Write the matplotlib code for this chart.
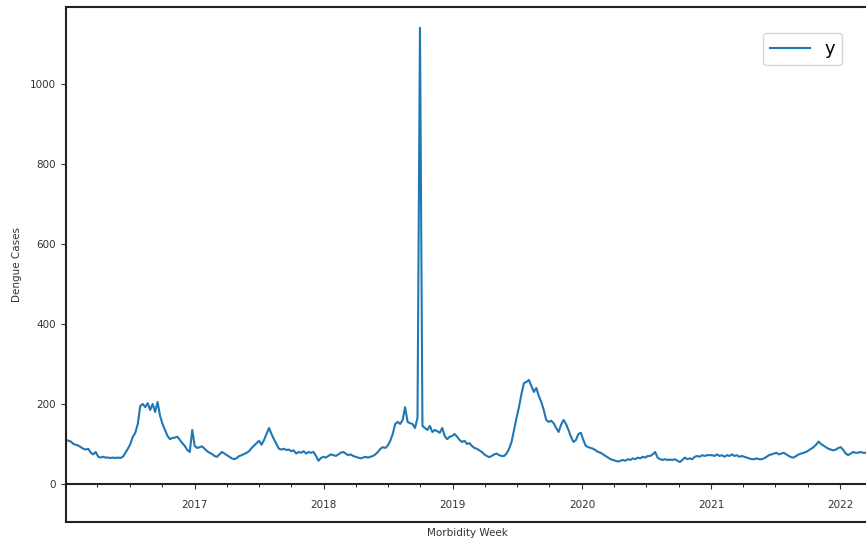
import numpy as np
import pandas as pd
import matplotlib
matplotlib.use('Agg')
import matplotlib.pyplot as plt
import matplotlib.dates as mdates
from matplotlib.lines import Line2D

# casos semanales de dengue
casos_2016 = [110, 108, 106, 100, 98, 96, 92, 88, 86, 88, 78, 74, 80, 68, 66, 68,
              66, 66, 65, 66, 65, 66, 65, 68, 78, 88, 100, 118, 128, 150, 195, 200,
              192, 202, 185, 200, 180, 205, 170, 150, 135, 120, 112, 115, 116, 118,
              110, 102, 95, 85, 80, 135]
casos_2017 = [95, 90, 92, 94, 88, 82, 78, 75, 70, 68, 74, 80, 76, 72, 68, 64,
              62, 65, 70, 72, 75, 78, 82, 90, 96, 102, 108, 98, 110, 125, 140, 125,
              112, 100, 88, 86, 88, 85, 86, 82, 84, 76, 80, 78, 82, 76,
              80, 78, 80, 70, 58, 65]
casos_2018 = [68, 66, 70, 74, 72, 70, 74, 78, 80, 76, 72, 74, 70, 68, 66, 64,
              66, 68, 66, 68, 70, 74, 80, 88, 92, 90, 96, 108, 125, 150, 155, 150,
              160, 192, 155, 152, 150, 140, 165, 1140, 145, 140, 135, 145, 130, 135,
              132, 128, 140, 120, 112, 118]
casos_2019 = [120, 125, 118, 110, 105, 108, 100, 102, 95, 90, 88, 84, 80, 74, 70, 67,
              70, 74, 76, 72, 70, 70, 76, 88, 105, 135, 165, 192, 225, 252, 255, 260,
              245, 230, 240, 220, 205, 185, 160, 155, 158, 152, 140, 130, 148, 160,
              150, 135, 118, 105, 110, 125]
casos_2020 = [128, 110, 95, 92, 90, 88, 84, 80, 78, 74, 70, 66, 62, 60, 58, 56,
              58, 60, 58, 62, 60, 64, 62, 66, 64, 68, 66, 70, 70, 74, 80, 66,
              62, 60, 62, 60, 61, 60, 62, 58, 55, 60, 66, 62, 64, 62,
              68, 70, 68, 72, 70, 72, 72]
casos_2021 = [72, 70, 74, 70, 72, 68, 72, 70, 74, 70, 72, 68, 70, 68, 66, 64,
              62, 62, 64, 62, 62, 64, 68, 72, 74, 76, 78, 74, 76, 78, 74, 70,
              67, 66, 70, 74, 76, 78, 80, 84, 88, 92, 98, 106, 100, 96,
              92, 88, 86, 84, 86, 90]
casos_2022 = [92, 85, 76, 72, 76, 80, 78, 78, 80, 78, 78, 76]

casos = casos_2016 + casos_2017 + casos_2018 + casos_2019 + casos_2020 + casos_2021 + casos_2022
semanas = pd.date_range('2016-01-03', periods=len(casos), freq='W')
df = pd.DataFrame({'y': casos}, index=semanas)

fig = plt.figure(figsize=(8.66, 5.42), dpi=100)
ax = fig.add_axes([66 / 866, 20 / 542, 802 / 866, 515 / 542])

ax.plot(df.index, df['y'], color='#1f77b4', linewidth=1.5, label='y')
ax.set_xlim(df.index[0], df.index[-1])
ax.set_ylim(-95, 1192)

# eje x sobre el cero, marco exterior abajo
ax.spines['bottom'].set_position(('data', 0))
for s in ['left', 'top', 'bottom', 'right']:
    ax.spines[s].set_linewidth(1.5)
    ax.spines[s].set_color('#222222')
ax.add_line(Line2D([0, 1], [0, 0], transform=ax.transAxes, color='#222222',
                   linewidth=1.5, clip_on=False))

ax.xaxis.set_major_locator(mdates.YearLocator())
ax.xaxis.set_major_formatter(mdates.DateFormatter('%Y'))
ax.xaxis.set_minor_locator(mdates.MonthLocator(bymonth=[4, 7, 10]))
ax.set_yticks([0, 200, 400, 600, 800, 1000])
ax.tick_params(axis='both', which='major', labelsize=7.5, colors='#333333')
ax.tick_params(axis='x', which='major', pad=8)
ax.tick_params(axis='x', which='minor', length=2)

ax.set_xlabel('Morbidity Week', fontsize=7.5, color='#333333')
ax.set_ylabel('Dengue Cases', fontsize=7.5, color='#333333')
ax.xaxis.set_label_coords(0.5, -0.012)
ax.yaxis.set_label_coords(-0.055, 0.5)

ax.legend(loc='upper right', bbox_to_anchor=(0.968, 0.95), borderaxespad=0,
          fontsize=13, handlelength=2.2)

fig.savefig('out.png', dpi=100)
